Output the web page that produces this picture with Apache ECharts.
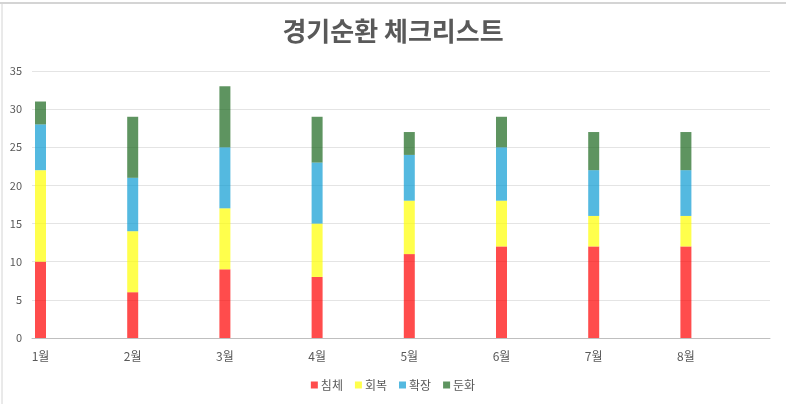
<!DOCTYPE html>
<html>
<head>
<meta charset="utf-8">
<script src="https://cdn.jsdelivr.net/npm/echarts@6/dist/echarts.min.js"></script>
<style>
    html, body { margin: 0; padding: 0; background: #fff; }
    #chart { width: 786px; height: 404px; }
</style>
</head>
<body>
<div id="chart"></div>
<script>
var months = ["1월", "2월", "3월", "4월", "5월", "6월", "7월", "8월"];
var seriesNames = ["침체", "회복", "확장", "둔화"];
var recession = [10, 6, 9, 8, 11, 12, 12, 12];
var recovery = [12, 8, 8, 7, 7, 6, 4, 4];
var expansion = [6, 7, 8, 8, 6, 7, 6, 6];
var slowdown = [3, 8, 8, 6, 3, 4, 5, 5];
var yTicks = [0, 5, 10, 15, 20, 25, 30, 35];

var colors = ["#ff0000", "#ffff00", "#0c9bd3", "#19661c"];
var fontFamily = "'Noto Sans CJK KR', 'Noto Sans', sans-serif";

var chart = echarts.init(document.getElementById("chart"));

var seriesData = [recession, recovery, expansion, slowdown];
// extra empty slot so the last month doesn't sit on the right edge
var slots = months.concat([""]);

var option = {
    animation: false,
    textStyle: { fontFamily: fontFamily },
    title: {
        text: "경기순환 체크리스트",
        left: "center",
        top: 13,
        textStyle: {
            fontSize: 26,
            fontWeight: "bold",
            color: "#595959",
            fontFamily: fontFamily
        }
    },
    legend: {
        data: seriesNames,
        bottom: 8,
        left: "center",
        itemWidth: 7,
        itemHeight: 7,
        itemGap: 12,
        icon: "rect",
        textStyle: { fontSize: 12, color: "#595959", padding: [0, 0, 0, -2] }
    },
    grid: [
        { left: 32, right: 16, top: 71, bottom: 66 },
        { left: 40.5, right: 7.9, top: 71, bottom: 66 }
    ],
    xAxis: [
        {
            gridIndex: 0,
            type: "value",
            min: 0,
            max: 1,
            splitLine: { show: false },
            axisTick: { show: false },
            axisLabel: { show: false },
            axisLine: { show: true, lineStyle: { color: "#bfbfbf", width: 1 } }
        },
        {
            gridIndex: 1,
            type: "category",
            data: slots,
            boundaryGap: false,
            axisLine: { show: false },
            axisTick: { show: false },
            splitLine: { show: false },
            axisLabel: { color: "#595959", fontSize: 12, margin: 12, interval: 0 }
        }
    ],
    yAxis: [
        {
            gridIndex: 0,
            type: "value",
            min: yTicks[0],
            max: yTicks[yTicks.length - 1],
            interval: 5,
            axisLine: { show: false },
            axisTick: { show: false },
            axisLabel: { color: "#595959", fontSize: 11, margin: 10 },
            splitLine: { lineStyle: { color: "#e4e4e4", width: 1 } }
        },
        {
            gridIndex: 1,
            type: "value",
            min: yTicks[0],
            max: yTicks[yTicks.length - 1],
            interval: 5,
            show: false,
            splitLine: { show: false }
        }
    ],
    series: seriesNames.map(function (name, k) {
        return {
            name: name,
            type: "bar",
            stack: "total",
            xAxisIndex: 1,
            yAxisIndex: 1,
            barWidth: 11,
            data: seriesData[k],
            itemStyle: { color: colors[k], opacity: 0.7 }
        };
    }),
    graphic: [
        { type: "line", shape: { x1: 0, y1: 3, x2: 786, y2: 3 }, style: { stroke: "#d4d4d4", lineWidth: 2 } },
        { type: "line", shape: { x1: 2, y1: 3, x2: 2, y2: 404 }, style: { stroke: "#d4d4d4", lineWidth: 1 } }
    ]
};

chart.setOption(option);
</script>
</body>
</html>
